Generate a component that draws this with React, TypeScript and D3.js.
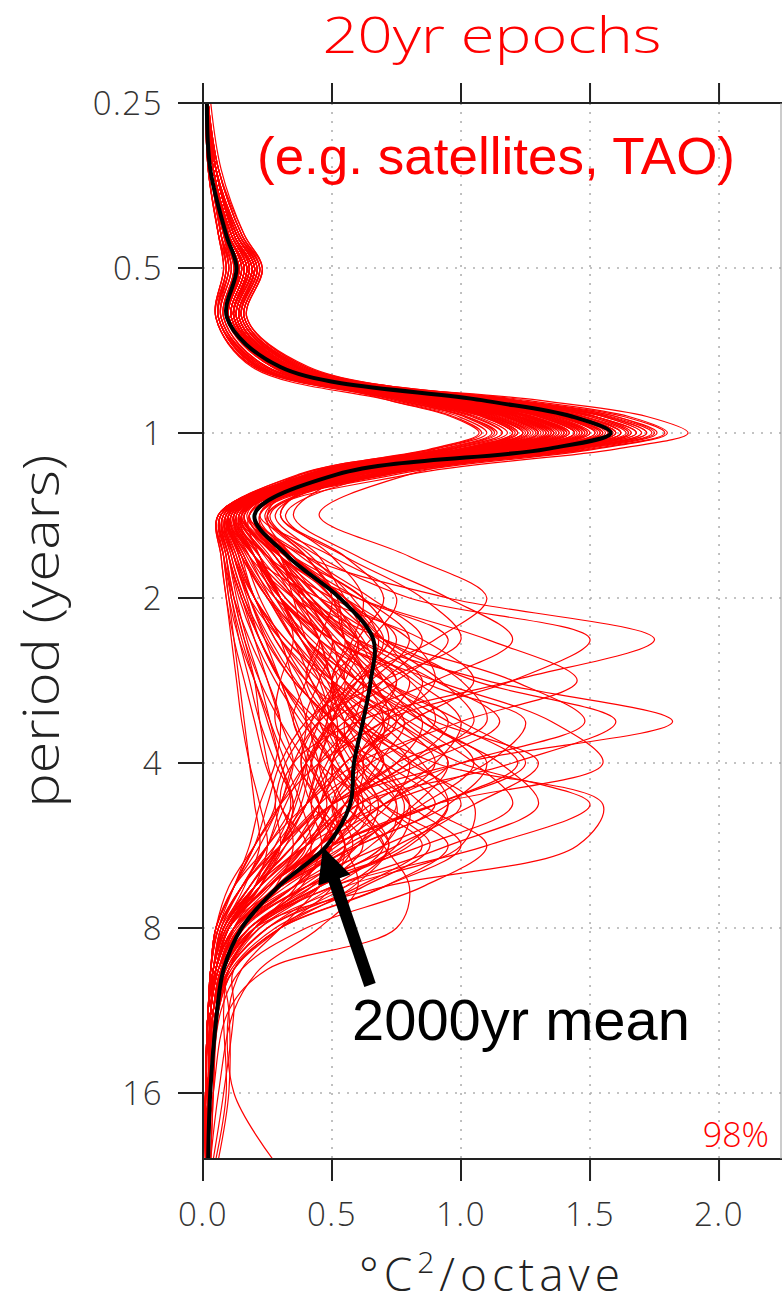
import React from "react";
import * as d3 from "d3";

// period grid (years), shared by every spectrum
const periods = [
  0.25, 0.33, 0.435, 0.5, 0.616, 0.758, 0.871, 0.933, 1.0, 1.07, 1.19,
  1.41, 1.68, 2.0, 2.38, 2.83, 3.36, 4.0, 4.76, 5.66, 6.73, 8.0, 9.51, 11.31, 16, 21.11,
];

// 2000yr mean spectrum (degC^2/octave)
const meanPower = [
  0.015, 0.028, 0.09, 0.13, 0.093, 0.3, 1.08, 1.43, 1.58, 1.33, 0.52,
  0.2, 0.33, 0.53, 0.66, 0.65, 0.62, 0.585, 0.57, 0.48, 0.29, 0.15, 0.08, 0.055, 0.028, 0.02,
];

// spectra of the individual 20yr epochs
const epochSpectra = [
  [0.02,0.04,0.11,0.17,0.12,0.33,1.3,1.72,1.88,1.6,0.8, 0.25,0.35,0.55,0.7,0.6,0.5,0.55,0.6,0.45,0.25,0.1,0.05,0.03,0.02,0.01],
  [0.02,0.05,0.12,0.19,0.13,0.32,1.25,1.65,1.8,1.52,0.75, 0.18,0.4,0.95,1.75,1.2,0.6,0.35,0.3,0.4,0.25,0.1,0.05,0.03,0.02,0.01],
  [0.01,0.04,0.1,0.16,0.11,0.3,1.2,1.6,1.75,1.45,0.7, 0.15,0.25,0.4,0.6,1.1,1.82,1.0,0.5,0.35,0.2,0.08,0.04,0.03,0.02,0.01],
  [0.02,0.05,0.13,0.2,0.14,0.34,1.18,1.57,1.72,1.42,0.72, 0.12,0.2,0.3,0.45,0.5,0.6,0.9,1.55,1.45,0.7,0.2,0.08,0.04,0.02,0.01],
  [0.02,0.04,0.11,0.18,0.12,0.31,1.15,1.55,1.7,1.43,0.68, 0.2,0.35,0.55,0.7,1.05,1.6,1.2,0.6,0.4,0.2,0.1,0.05,0.03,0.02,0.01],
  [0.01,0.03,0.09,0.14,0.1,0.28,1.12,1.52,1.68,1.4,0.66, 0.25,0.45,0.8,1.5,1.2,0.7,0.5,0.45,0.3,0.15,0.07,0.04,0.03,0.02,0.01],
  [0.02,0.05,0.12,0.19,0.13,0.33,1.16,1.52,1.66,1.38,0.7, 0.1,0.15,0.25,0.35,0.5,0.7,1.0,1.5,1.1,0.5,0.2,0.08,0.04,0.02,0.01],
  [0.02,0.04,0.1,0.15,0.1,0.29,1.1,1.48,1.64,1.36,0.65, 0.2,0.3,0.45,0.6,0.7,0.95,1.22,0.9,0.5,0.25,0.1,0.05,0.03,0.02,0.01],
  [0.02,0.05,0.12,0.18,0.12,0.31,1.1,1.47,1.62,1.38,0.8, 0.45,0.8,1.1,0.9,0.6,0.5,0.45,0.4,0.3,0.2,0.08,0.04,0.02,0.02,0.01],
  [0.01,0.04,0.1,0.16,0.11,0.3,1.08,1.45,1.6,1.35,0.62, 0.2,0.3,0.6,1.1,1.45,1.0,0.6,0.4,0.25,0.15,0.06,0.03,0.02,0.01,0.01],
  [0.02,0.05,0.13,0.2,0.14,0.33,1.08,1.44,1.58,1.33,0.6, 0.15,0.25,0.4,0.7,1.2,1.48,1.0,0.6,0.45,0.3,0.12,0.05,0.03,0.02,0.01],
  [0.02,0.04,0.11,0.17,0.12,0.3,1.06,1.42,1.56,1.3,0.58, 0.15,0.3,0.4,0.5,0.55,0.8,1.05,1.2,0.85,0.4,0.15,0.06,0.03,0.02,0.01],
  [0.01,0.03,0.09,0.14,0.09,0.27,1.04,1.4,1.55,1.3,0.55, 0.08,0.1,0.15,0.2,0.25,0.3,0.35,0.3,0.25,0.15,0.06,0.03,0.02,0.01,0.01],
  [0.02,0.05,0.12,0.19,0.13,0.32,1.05,1.4,1.54,1.29,0.58, 0.1,0.2,0.35,0.5,0.45,0.4,0.5,0.65,0.55,0.3,0.12,0.05,0.03,0.02,0.01],
  [0.02,0.04,0.1,0.16,0.11,0.29,1.02,1.38,1.52,1.28,0.6, 0.12,0.25,0.5,0.8,0.9,0.7,0.45,0.3,0.2,0.12,0.05,0.03,0.02,0.01,0.01],
  [0.01,0.04,0.11,0.17,0.12,0.3,1.0,1.36,1.5,1.25,0.56, 0.18,0.22,0.3,0.45,0.7,0.95,0.8,0.55,0.5,0.35,0.14,0.06,0.03,0.02,0.01],
  [0.02,0.05,0.12,0.18,0.13,0.31,1.0,1.35,1.49,1.24,0.55, 0.1,0.18,0.35,0.6,0.55,0.45,0.7,0.9,0.6,0.3,0.12,0.05,0.03,0.02,0.01],
  [0.02,0.04,0.1,0.15,0.1,0.28,0.98,1.34,1.48,1.24,0.52, 0.07,0.09,0.12,0.16,0.2,0.22,0.25,0.28,0.2,0.12,0.05,0.03,0.02,0.01,0.01],
  [0.01,0.03,0.09,0.14,0.1,0.27,0.97,1.32,1.46,1.22,0.56, 0.22,0.5,0.75,0.65,0.5,0.55,0.7,0.5,0.35,0.2,0.08,0.04,0.02,0.01,0.01],
  [0.02,0.05,0.13,0.2,0.14,0.33,0.98,1.31,1.45,1.2,0.55, 0.14,0.22,0.3,0.4,0.6,0.85,1.1,0.95,0.6,0.3,0.1,0.05,0.03,0.02,0.01],
  [0.02,0.04,0.11,0.17,0.12,0.3,0.96,1.3,1.44,1.2,0.52, 0.12,0.2,0.45,0.85,1.05,0.8,0.55,0.45,0.35,0.2,0.08,0.04,0.02,0.01,0.01],
  [0.01,0.04,0.1,0.16,0.11,0.29,0.95,1.28,1.42,1.18,0.5, 0.1,0.15,0.2,0.3,0.4,0.55,0.75,0.95,0.8,0.45,0.2,0.08,0.04,0.02,0.01],
  [0.02,0.05,0.12,0.19,0.13,0.32,0.95,1.27,1.41,1.17,0.54, 0.2,0.35,0.6,0.95,0.75,0.5,0.4,0.35,0.25,0.12,0.05,0.03,0.02,0.01,0.01],
  [0.02,0.04,0.1,0.15,0.1,0.28,0.93,1.26,1.4,1.16,0.5, 0.09,0.12,0.18,0.25,0.35,0.5,0.6,0.55,0.4,0.22,0.09,0.04,0.02,0.01,0.01],
  [0.01,0.03,0.09,0.14,0.1,0.27,0.92,1.24,1.38,1.15,0.5, 0.15,0.3,0.5,0.55,0.7,1.0,1.25,0.9,0.5,0.25,0.1,0.05,0.03,0.02,0.01],
  [0.02,0.05,0.12,0.18,0.12,0.31,0.92,1.23,1.37,1.14,0.52, 0.16,0.28,0.4,0.55,0.8,0.7,0.6,0.75,0.7,0.4,0.15,0.06,0.03,0.02,0.01],
  [0.02,0.04,0.11,0.17,0.12,0.3,0.9,1.22,1.36,1.13,0.48, 0.11,0.17,0.28,0.5,0.75,0.6,0.45,0.4,0.3,0.18,0.08,0.04,0.02,0.01,0.01],
  [0.01,0.04,0.1,0.16,0.11,0.29,0.9,1.21,1.35,1.12,0.5, 0.2,0.4,0.65,0.85,0.7,0.55,0.6,0.8,0.75,0.45,0.18,0.07,0.04,0.02,0.01],
  [0.02,0.05,0.13,0.2,0.14,0.33,0.9,1.2,1.34,1.11,0.5, 0.08,0.1,0.15,0.22,0.3,0.45,0.65,0.8,0.65,0.4,0.2,0.1,0.08,0.09,0.05],
  [0.02,0.04,0.1,0.15,0.1,0.28,0.88,1.19,1.33,1.1,0.47, 0.12,0.25,0.42,0.6,0.9,1.15,0.85,0.5,0.3,0.15,0.06,0.03,0.02,0.01,0.01],
  [0.01,0.03,0.09,0.14,0.1,0.27,0.88,1.18,1.32,1.1,0.5, 0.3,0.55,0.85,1.0,0.7,0.45,0.35,0.3,0.2,0.1,0.05,0.03,0.02,0.01,0.01],
  [0.02,0.05,0.12,0.19,0.13,0.32,0.87,1.17,1.3,1.08,0.48, 0.1,0.15,0.25,0.35,0.45,0.5,0.55,0.7,0.95,0.7,0.3,0.12,0.05,0.03,0.02],
  [0.02,0.04,0.11,0.17,0.12,0.3,0.86,1.16,1.29,1.07,0.46, 0.13,0.2,0.3,0.4,0.55,0.75,0.9,0.7,0.45,0.25,0.1,0.05,0.03,0.02,0.01],
  [0.01,0.04,0.1,0.16,0.11,0.29,0.85,1.15,1.28,1.06,0.45, 0.07,0.09,0.11,0.14,0.18,0.22,0.28,0.35,0.3,0.2,0.1,0.05,0.03,0.02,0.01],
  [0.02,0.05,0.12,0.18,0.12,0.31,0.85,1.14,1.27,1.05,0.47, 0.18,0.3,0.45,0.7,1.0,1.1,0.75,0.55,0.45,0.25,0.1,0.05,0.03,0.02,0.01],
  [0.02,0.04,0.11,0.17,0.12,0.3,0.84,1.13,1.26,1.04,0.44, 0.1,0.14,0.2,0.28,0.4,0.6,0.8,1.05,1.0,0.55,0.22,0.09,0.05,0.03,0.02],
  [0.01,0.03,0.09,0.14,0.1,0.27,0.83,1.12,1.25,1.03,0.45, 0.2,0.3,0.35,0.4,0.5,0.45,0.4,0.45,0.5,0.35,0.15,0.06,0.03,0.02,0.01],
  [0.02,0.05,0.13,0.2,0.14,0.33,0.84,1.11,1.24,1.02,0.46, 0.14,0.3,0.55,0.75,0.6,0.4,0.3,0.25,0.2,0.12,0.05,0.03,0.02,0.01,0.01],
  [0.02,0.04,0.1,0.15,0.1,0.28,0.82,1.1,1.22,1.0,0.43, 0.09,0.13,0.2,0.32,0.5,0.7,0.65,0.5,0.42,0.3,0.15,0.07,0.04,0.02,0.01],
  [0.01,0.04,0.1,0.16,0.11,0.29,0.8,1.08,1.2,0.99,0.42, 0.12,0.18,0.26,0.35,0.42,0.5,0.62,0.75,0.6,0.35,0.14,0.06,0.03,0.02,0.01],
  [0.02,0.05,0.12,0.19,0.13,0.32,0.8,1.06,1.18,0.97,0.44, 0.25,0.4,0.5,0.45,0.4,0.5,0.6,0.45,0.3,0.18,0.07,0.04,0.02,0.01,0.01],
  [0.02,0.04,0.11,0.17,0.12,0.3,0.78,1.04,1.16,0.96,0.42, 0.08,0.11,0.16,0.22,0.3,0.42,0.55,0.6,0.5,0.3,0.12,0.05,0.03,0.02,0.01],
  [0.01,0.03,0.09,0.14,0.1,0.27,0.76,1.02,1.14,0.94,0.4, 0.15,0.28,0.4,0.5,0.65,0.6,0.5,0.55,0.7,0.5,0.25,0.1,0.05,0.03,0.02],
  [0.02,0.05,0.12,0.18,0.12,0.31,0.76,1.01,1.12,0.92,0.41, 0.11,0.16,0.25,0.38,0.5,0.48,0.42,0.38,0.3,0.18,0.08,0.04,0.02,0.01,0.01],
  [0.02,0.04,0.1,0.15,0.1,0.28,0.74,0.99,1.1,0.9,0.4, 0.1,0.2,0.32,0.45,0.4,0.35,0.45,0.6,0.45,0.25,0.1,0.05,0.03,0.02,0.01],
  [0.01,0.04,0.1,0.16,0.11,0.29,0.72,0.96,1.07,0.88,0.38, 0.13,0.22,0.3,0.35,0.3,0.28,0.35,0.45,0.38,0.22,0.09,0.04,0.02,0.01,0.01],
  [0.02,0.04,0.11,0.17,0.12,0.31,1.16,1.55,1.7,1.42,0.66, 0.12,0.2,0.3,0.4,0.6,0.9,1.3,1.05,0.7,0.35,0.12,0.05,0.03,0.02,0.01],
  [0.02,0.05,0.12,0.18,0.12,0.3,1.08,1.45,1.6,1.34,0.6, 0.18,0.35,0.5,0.6,0.75,0.65,0.5,0.65,0.85,0.6,0.25,0.1,0.05,0.03,0.02],
  [0.01,0.03,0.09,0.14,0.1,0.27,1.0,1.36,1.5,1.25,0.57, 0.16,0.32,0.55,0.7,0.85,1.25,1.1,0.7,0.4,0.2,0.08,0.04,0.02,0.01,0.01],
  [0.02,0.05,0.12,0.19,0.13,0.32,0.97,1.3,1.44,1.2,0.53, 0.14,0.25,0.35,0.45,0.5,0.6,0.7,0.8,1.0,0.7,0.3,0.12,0.06,0.03,0.02],
  [0.02,0.04,0.1,0.16,0.11,0.29,0.94,1.26,1.4,1.16,0.52, 0.3,0.55,0.7,0.6,0.55,0.75,0.95,0.7,0.5,0.3,0.12,0.05,0.03,0.02,0.01],
  [0.01,0.04,0.1,0.15,0.1,0.28,0.91,1.22,1.36,1.13,0.5, 0.1,0.14,0.2,0.3,0.42,0.5,0.45,0.5,0.55,0.6,0.45,0.22,0.12,0.06,0.03],
  [0.02,0.05,0.12,0.18,0.12,0.31,0.87,1.17,1.3,1.08,0.48, 0.12,0.2,0.32,0.5,0.8,0.9,0.65,0.45,0.5,0.35,0.12,0.05,0.03,0.02,0.01],
  [0.02,0.04,0.11,0.17,0.12,0.3,0.83,1.11,1.24,1.02,0.44, 0.1,0.16,0.22,0.3,0.35,0.4,0.38,0.42,0.55,0.45,0.3,0.15,0.1,0.12,0.27],
  [0.02,0.05,0.12,0.19,0.13,0.32,1.07,1.43,1.58,1.32,0.6, 0.2,0.28,0.4,0.55,0.65,0.75,0.6,0.5,0.55,0.5,0.3,0.12,0.06,0.03,0.02],
  [0.01,0.04,0.1,0.16,0.11,0.29,1.02,1.37,1.52,1.27,0.58, 0.35,0.6,0.95,1.2,0.9,0.55,0.4,0.3,0.22,0.12,0.05,0.03,0.02,0.01,0.01],
  [0.02,0.04,0.11,0.17,0.12,0.3,0.98,1.32,1.46,1.22,0.54, 0.09,0.12,0.17,0.22,0.3,0.4,0.5,0.6,0.7,0.8,0.75,0.25,0.1,0.04,0.02],
  [0.02,0.05,0.12,0.18,0.12,0.31,0.89,1.19,1.33,1.1,0.48, 0.15,0.2,0.28,0.38,0.5,0.62,0.7,0.85,1.1,0.85,0.4,0.15,0.07,0.03,0.02],
  [0.01,0.03,0.09,0.14,0.1,0.27,0.8,1.08,1.2,0.99,0.42, 0.07,0.08,0.1,0.12,0.14,0.16,0.18,0.2,0.22,0.16,0.08,0.04,0.02,0.01,0.01],
  [0.02,0.05,0.13,0.2,0.14,0.33,1.1,1.47,1.62,1.36,0.62, 0.11,0.18,0.3,0.5,0.9,1.35,1.55,0.9,0.5,0.25,0.1,0.05,0.03,0.02,0.01],
  [0.01,0.02,0.06,0.08,0.05,0.2,0.9,1.22,1.35,1.12,0.46, 0.06,0.08,0.12,0.18,0.25,0.3,0.28,0.22,0.18,0.12,0.06,0.03,0.02,0.01,0.01],
  [0.03,0.07,0.16,0.23,0.17,0.4,1.2,1.6,1.76,1.48,0.7, 0.22,0.3,0.38,0.45,0.55,0.5,0.42,0.5,0.62,0.45,0.2,0.08,0.04,0.02,0.01],
  [0.01,0.03,0.07,0.1,0.06,0.22,0.98,1.32,1.47,1.23,0.5, 0.07,0.1,0.14,0.2,0.28,0.38,0.5,0.45,0.32,0.2,0.09,0.04,0.02,0.01,0.01],
  [0.02,0.06,0.15,0.22,0.16,0.38,1.14,1.52,1.66,1.4,0.64, 0.16,0.28,0.42,0.55,0.5,0.58,0.82,1.0,0.75,0.4,0.15,0.06,0.03,0.02,0.01],
  [0.01,0.02,0.06,0.09,0.06,0.21,0.85,1.14,1.26,1.04,0.42, 0.06,0.07,0.09,0.12,0.16,0.2,0.24,0.3,0.35,0.28,0.15,0.07,0.04,0.02,0.01],
  [0.02,0.05,0.14,0.21,0.15,0.36,1.03,1.38,1.53,1.28,0.6, 0.28,0.45,0.55,0.65,0.85,0.75,0.55,0.4,0.28,0.15,0.06,0.03,0.02,0.01,0.01],
  [0.01,0.03,0.08,0.11,0.07,0.24,0.95,1.28,1.42,1.18,0.49, 0.1,0.12,0.18,0.3,0.45,0.62,0.8,0.72,0.52,0.3,0.12,0.05,0.03,0.02,0.01],
  [0.02,0.05,0.13,0.2,0.15,0.35,1.12,1.5,1.65,1.38,0.62, 0.12,0.22,0.36,0.5,0.62,0.58,0.48,0.42,0.46,0.38,0.2,0.09,0.04,0.02,0.01],
  [0.01,0.03,0.07,0.1,0.06,0.23,0.78,1.05,1.16,0.95,0.4, 0.09,0.15,0.25,0.4,0.52,0.42,0.32,0.28,0.3,0.22,0.1,0.05,0.03,0.02,0.01],
  [0.02,0.06,0.15,0.22,0.16,0.39,1.22,1.63,1.79,1.5,0.72, 0.2,0.3,0.42,0.55,0.72,0.88,1.05,0.85,0.55,0.3,0.12,0.05,0.03,0.02,0.01],
  [0.01,0.02,0.06,0.08,0.05,0.19,0.72,0.97,1.08,0.89,0.37, 0.08,0.1,0.13,0.17,0.22,0.26,0.3,0.34,0.28,0.18,0.08,0.04,0.02,0.01,0.01],
  [0.02,0.05,0.13,0.21,0.15,0.36,1.06,1.42,1.57,1.31,0.58, 0.14,0.2,0.28,0.42,0.6,0.78,0.68,0.6,0.72,0.55,0.25,0.1,0.05,0.03,0.02],
  [0.01,0.03,0.08,0.12,0.08,0.25,0.93,1.25,1.39,1.16,0.49, 0.17,0.35,0.62,0.72,0.58,0.48,0.55,0.62,0.5,0.3,0.12,0.05,0.03,0.02,0.01],
  [0.02,0.05,0.14,0.21,0.15,0.37,1.0,1.34,1.48,1.24,0.55, 0.1,0.13,0.18,0.24,0.3,0.36,0.42,0.48,0.4,0.26,0.12,0.08,0.1,0.1,0.06],
  [0.01,0.03,0.07,0.1,0.06,0.22,0.87,1.17,1.3,1.08,0.45, 0.11,0.2,0.35,0.48,0.6,0.78,0.95,0.82,0.58,0.32,0.13,0.06,0.03,0.02,0.01],
  [0.02,0.06,0.15,0.23,0.17,0.4,1.1,1.47,1.62,1.36,0.66, 0.26,0.42,0.58,0.68,0.62,0.5,0.4,0.32,0.25,0.15,0.07,0.04,0.02,0.01,0.01],
  [0.01,0.03,0.08,0.11,0.07,0.23,0.81,1.09,1.21,1.0,0.42, 0.07,0.09,0.12,0.16,0.22,0.3,0.4,0.5,0.58,0.45,0.22,0.1,0.05,0.03,0.02],
  [0.02,0.05,0.13,0.2,0.14,0.35,1.17,1.56,1.72,1.44,0.66, 0.18,0.3,0.48,0.62,0.7,0.85,1.15,1.3,0.95,0.5,0.18,0.07,0.04,0.02,0.01],
  [0.01,0.03,0.07,0.09,0.06,0.21,0.9,1.21,1.34,1.11,0.45, 0.06,0.08,0.1,0.14,0.2,0.26,0.32,0.38,0.42,0.36,0.2,0.1,0.06,0.04,0.03],
  [0.02,0.05,0.14,0.22,0.16,0.37,1.04,1.39,1.54,1.29,0.58, 0.2,0.38,0.62,0.8,0.65,0.45,0.38,0.45,0.55,0.42,0.18,0.07,0.04,0.02,0.01],
  [0.01,0.03,0.08,0.12,0.08,0.25,0.97,1.3,1.44,1.2,0.5, 0.09,0.11,0.16,0.24,0.35,0.5,0.62,0.58,0.45,0.28,0.12,0.06,0.03,0.02,0.01],
  [0.02,0.05,0.13,0.2,0.14,0.34,0.84,1.12,1.24,1.03,0.45, 0.16,0.26,0.38,0.52,0.66,0.72,0.6,0.5,0.4,0.25,0.1,0.05,0.03,0.02,0.01],
  [0.01,0.02,0.06,0.08,0.05,0.2,1.08,1.45,1.6,1.34,0.56, 0.08,0.12,0.2,0.32,0.48,0.68,0.85,0.95,0.78,0.45,0.18,0.08,0.04,0.02,0.01],
  [0.02,0.06,0.16,0.23,0.17,0.41,1.14,1.52,1.68,1.4,0.68, 0.32,0.5,0.62,0.58,0.5,0.6,0.7,0.55,0.38,0.22,0.1,0.05,0.03,0.02,0.01],
  [0.01,0.03,0.08,0.1,0.07,0.22,0.76,1.02,1.13,0.93,0.38, 0.07,0.1,0.15,0.22,0.3,0.35,0.4,0.36,0.3,0.2,0.09,0.04,0.02,0.01,0.01],
  [0.02,0.05,0.13,0.2,0.14,0.35,1.0,1.34,1.49,1.24,0.55, 0.13,0.2,0.3,0.45,0.62,0.7,0.62,0.7,0.88,0.62,0.28,0.11,0.05,0.03,0.02],
  [0.01,0.03,0.07,0.11,0.07,0.24,0.91,1.22,1.36,1.13,0.47, 0.1,0.16,0.26,0.38,0.46,0.52,0.5,0.4,0.32,0.22,0.1,0.05,0.03,0.02,0.01],
  [0.02,0.05,0.14,0.21,0.15,0.37,1.18,1.58,1.74,1.46,0.68, 0.15,0.24,0.38,0.58,0.82,1.0,0.9,0.65,0.45,0.25,0.1,0.05,0.03,0.02,0.01],
  [0.01,0.02,0.06,0.09,0.05,0.2,0.82,1.1,1.22,1.01,0.41, 0.06,0.07,0.09,0.11,0.13,0.15,0.18,0.22,0.25,0.2,0.1,0.05,0.03,0.02,0.01],
  [0.02,0.05,0.13,0.2,0.15,0.36,0.95,1.27,1.41,1.18,0.53, 0.24,0.4,0.52,0.55,0.65,0.85,0.75,0.5,0.35,0.2,0.08,0.04,0.02,0.01,0.01],
  [0.01,0.03,0.08,0.12,0.08,0.25,1.05,1.4,1.55,1.3,0.55, 0.11,0.14,0.2,0.28,0.38,0.45,0.52,0.62,0.72,0.58,0.3,0.12,0.12,0.08,0.04],
  [0.02,0.05,0.13,0.21,0.15,0.36,0.88,1.18,1.31,1.09,0.48, 0.2,0.32,0.45,0.6,0.52,0.42,0.45,0.52,0.45,0.3,0.14,0.06,0.03,0.02,0.01],
  [0.01,0.03,0.07,0.1,0.06,0.22,1.12,1.5,1.65,1.38,0.6, 0.09,0.12,0.18,0.26,0.36,0.48,0.58,0.68,0.6,0.38,0.16,0.07,0.04,0.02,0.01],
  [0.02,0.06,0.15,0.22,0.16,0.39,0.99,1.33,1.47,1.23,0.57, 0.22,0.35,0.5,0.68,0.92,1.05,0.8,0.55,0.4,0.24,0.1,0.05,0.03,0.02,0.01],
  [0.01,0.03,0.07,0.09,0.06,0.21,0.93,1.25,1.38,1.15,0.46, 0.06,0.08,0.11,0.15,0.2,0.25,0.3,0.35,0.3,0.22,0.12,0.07,0.05,0.04,0.03],
  [0.02,0.05,0.14,0.22,0.16,0.38,1.07,1.43,1.59,1.32,0.6, 0.14,0.22,0.3,0.38,0.48,0.55,0.65,0.78,0.7,0.42,0.18,0.08,0.04,0.02,0.01],
];

const periodTicks = [0.25, 0.5, 1, 2, 4, 8, 16];
const periodLabels = ["0.25", "0.5", "1", "2", "4", "8", "16"];
const powerTicks = [0, 0.5, 1, 1.5, 2];
const powerLabels = ["0.0", "0.5", "1.0", "1.5", "2.0"];

const W = 782;
const H = 1307;
const left = 203, right = 782, top = 103, bottom = 1159;

const App = () => {
  const x = d3.scaleLinear().domain([0, 2.244]).range([left, right]);
  const y = d3.scaleLog().base(2).domain([0.25, 21.11]).range([top, bottom]);

  const line = d3
    .line<number>()
    .x((d) => x(d))
    .y((d, i) => y(periods[i]))
    .curve(d3.curveCatmullRom.alpha(0.5));

  const labelFont = "'Open Sans', 'DejaVu Sans', sans-serif";
  const axisColor = "#222";

  return (
    <svg width={W} height={H} style={{ position: "absolute", left: 0, top: 0, background: "#fff" }}>
      <defs>
        <clipPath id="plotArea">
          <rect x={left} y={top} width={right - left} height={bottom - top} />
        </clipPath>
      </defs>

      {/* dotted grid */}
      <g stroke="#b0b0b0" strokeWidth={1.6} strokeDasharray="2,7">
        {powerTicks.slice(1).map((t) => (
          <line key={"gx" + t} x1={x(t)} x2={x(t)} y1={top} y2={bottom} />
        ))}
        {periodTicks.slice(1).map((t) => (
          <line key={"gy" + t} x1={left} x2={right} y1={y(t)} y2={y(t)} />
        ))}
      </g>

      <g clipPath="url(#plotArea)">
        {epochSpectra.map((s, i) => (
          <path key={i} d={line(s) || ""} fill="none" stroke="#ff0000" strokeWidth={1.2} />
        ))}
        <path d={line(meanPower) || ""} fill="none" stroke="#000" strokeWidth={4} />
      </g>

      {/* frame and ticks */}
      <g stroke={axisColor} strokeWidth={2}>
        <line x1={left} x2={left} y1={top} y2={bottom + 1} />
        <line x1={left} x2={right} y1={top} y2={top} />
        <line x1={left} x2={right} y1={bottom} y2={bottom} />
        {periodTicks.map((t) => (
          <line key={"ty" + t} x1={left - 25} x2={left} y1={y(t)} y2={y(t)} />
        ))}
        {powerTicks.map((t) => (
          <line key={"tt" + t} x1={x(t)} x2={x(t)} y1={top - 20} y2={top} />
        ))}
        {powerTicks.map((t) => (
          <line key={"tb" + t} x1={x(t)} x2={x(t)} y1={bottom} y2={bottom + 22} />
        ))}
      </g>
      <line x1={right - 1} x2={right - 1} y1={top} y2={bottom} stroke="#999" strokeWidth={1} />

      <g fontFamily={labelFont} fontWeight={300} fontSize={33} fill="#333" letterSpacing={1.5}>
        {periodTicks.map((t, i) => (
          <text key={"ly" + t} x={163} y={y(t) + 12} textAnchor="end">
            {periodLabels[i]}
          </text>
        ))}
        {powerTicks.map((t, i) => (
          <text key={"lx" + t} x={x(t)} y={1226} textAnchor="middle">
            {powerLabels[i]}
          </text>
        ))}
      </g>

      <text
        transform="translate(59,631) rotate(-90)"
        textAnchor="middle"
        fontFamily={labelFont}
        fontWeight={300}
        fontSize={50}
        fill="#222"
        textLength={353}
        lengthAdjust="spacingAndGlyphs"
      >
        period (years)
      </text>

      <text
        x={492}
        y={1291}
        textAnchor="middle"
        fontFamily={labelFont}
        fontWeight={300}
        fontSize={46}
        fill="#222"
        letterSpacing={5}
      >
        °C<tspan fontSize={30} dy={-18}>2</tspan>
        <tspan dy={18}>/octave</tspan>
      </text>

      <text
        x={492}
        y={53}
        textAnchor="middle"
        fontFamily={labelFont}
        fontWeight={300}
        fontSize={49}
        fill="#ff0000"
        textLength={339}
        lengthAdjust="spacingAndGlyphs"
      >
        20yr epochs
      </text>

      <text
        x={496}
        y={174}
        textAnchor="middle"
        fontFamily="Liberation Sans, Arial, sans-serif"
        fontSize={52}
        fill="#ff0000"
        textLength={478}
        lengthAdjust="spacingAndGlyphs"
      >
        (e.g. satellites, TAO)
      </text>

      <text
        x={769}
        y={1147}
        textAnchor="end"
        fontFamily={labelFont}
        fontWeight={300}
        fontSize={34}
        fill="#ff0000"
      >
        98%
      </text>

      {/* arrow to the mean */}
      <line x1={370} y1={985} x2={330} y2={868} stroke="#000" strokeWidth={12} />
      <polygon points="323,847 350.4,874.6 318.2,885.6" fill="#000" />
      <text
        x={352}
        y={1040}
        fontFamily="Liberation Sans, Arial, sans-serif"
        fontSize={57}
        fill="#000"
        textLength={338}
        lengthAdjust="spacingAndGlyphs"
      >
        2000yr mean
      </text>
    </svg>
  );
};

export default App;
